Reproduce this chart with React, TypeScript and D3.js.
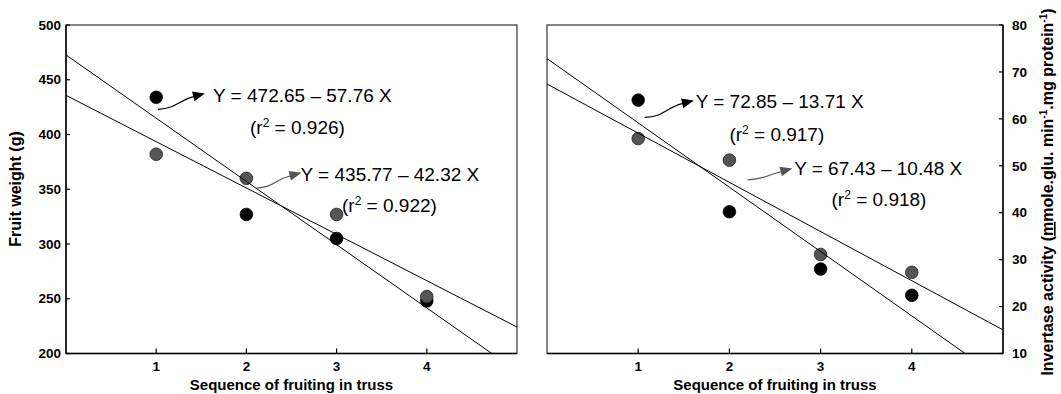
import React from "react";
import * as d3 from "d3";

// ---- data ----
const truss = [1, 2, 3, 4];
const xTicks = [1, 2, 3, 4];
const weightTicks = [200, 250, 300, 350, 400, 450, 500];
const invertaseTicks = [10, 20, 30, 40, 50, 60, 70, 80];

const weightBlack = [434, 327, 305, 248];
const weightGray = [382, 360, 327, 252];
const invertaseBlack = [64, 40.2, 28, 22.4];
const invertaseGray = [55.8, 51.2, 31.1, 27.3];

// regression: [intercept, slope]
const fitWeightBlack = [472.65, -57.76];
const fitWeightGray = [435.77, -42.32];
const fitInvBlack = [72.85, -13.71];
const fitInvGray = [67.43, -10.48];

const eqWeightBlack = ["Y = 472.65 \u2013 57.76 X", "0.926"];
const eqWeightGray = ["Y = 435.77 \u2013 42.32 X", "0.922"];
const eqInvBlack = ["Y = 72.85 \u2013 13.71 X", "0.917"];
const eqInvGray = ["Y = 67.43 \u2013 10.48 X", "0.918"];

// annotation anchors in data units: [eqX, eqY, r2X, r2Y, tailX, tailY, tipX, tipY]
const annWeightBlack = [1.63, 430, 2.04, 400.5, 1.02, 423, 1.54, 437.4];
const annWeightGray = [2.6, 357.5, 3.06, 329, 2.11, 351, 2.61, 365];
const annInvBlack = [1.63, 62.3, 2.0, 55.3, 1.07, 60.3, 1.61, 63.9];
const annInvGray = [2.71, 48.1, 3.12, 41.5, 2.2, 47, 2.69, 49.4];

const FONT = "'Liberation Sans', Arial, Helvetica, sans-serif";
const BLACK = "#000";
const GRAY = "#555";

const top = 25;
const bottom = 353.5;

function Arrow({ x1, y1, x2, y2, color }) {
  const a = (-14 * Math.PI) / 180;
  const hl = 12;
  const hw = 5;
  const bx = x2 - hl * Math.cos(a);
  const by = y2 - hl * Math.sin(a);
  const dx = bx - x1;
  const p1x = x1 + dx * 0.55;
  const p1y = y1 - 1;
  const p2x = bx - dx * 0.45 * Math.cos(a);
  const p2y = by - dx * 0.45 * Math.sin(a);
  const nx = -Math.sin(a);
  const ny = Math.cos(a);
  const head = `M${x2},${y2}L${bx + nx * hw},${by + ny * hw}L${bx - nx * hw},${by - ny * hw}Z`;
  return (
    <g>
      <path d={`M${x1},${y1}C${p1x},${p1y} ${p2x},${p2y} ${bx + 1},${by}`} fill="none" stroke={color} strokeWidth={1.2} />
      <path d={head} fill={color} />
    </g>
  );
}

function Annotation({ x, y, eq, ann, color }) {
  return (
    <g fontFamily={FONT} fontSize={19} fill="#000">
      <Arrow x1={x(ann[4])} y1={y(ann[5])} x2={x(ann[6])} y2={y(ann[7])} color={color} />
      <text x={x(ann[0])} y={y(ann[1])}>{eq[0]}</text>
      <text x={x(ann[2])} y={y(ann[3])}>
        (r<tspan dy={-7} fontSize={12}>2</tspan>
        <tspan dy={7}> = {eq[1]})</tspan>
      </text>
    </g>
  );
}

function Panel({ id, x0, x1, yDomain, yTicks, side, black, gray, fitB, fitG, eqB, eqG, annB, annG }) {
  const x = d3.scaleLinear().domain([0, 5]).range([x0, x1]);
  const y = d3.scaleLinear().domain(yDomain).range([bottom, top]);
  const axisX = side === "left" ? x0 : x1;
  const line = d3
    .line<number>()
    .x((d) => x(d))
    .y((d) => d);
  const fitPath = (f) =>
    d3.line<number>().x((d) => x(d)).y((d) => y(f[0] + f[1] * d))([0, 5]);
  return (
    <g>
      <defs>
        <clipPath id={`clip-${id}`}>
          <rect x={x0} y={top} width={x1 - x0} height={bottom - top} />
        </clipPath>
      </defs>
      {/* frame */}
      <rect x={x0} y={top} width={x1 - x0} height={bottom - top} fill="none" stroke="#333" strokeWidth={1.2} />
      <line x1={x0} x2={x1} y1={bottom} y2={bottom} stroke="#000" strokeWidth={1.6} />
      <line x1={axisX} x2={axisX} y1={top} y2={bottom} stroke="#000" strokeWidth={1.4} />
      {/* x ticks */}
      {xTicks.map((t) => (
        <g key={`xt${t}`}>
          <line x1={x(t)} x2={x(t)} y1={bottom} y2={bottom - 5} stroke="#000" strokeWidth={1.2} />
          <text x={x(t)} y={371} textAnchor="middle" fontFamily={FONT} fontWeight="bold" fontSize={13.5}>
            {t}
          </text>
        </g>
      ))}
      {/* y ticks */}
      {yTicks.map((t) => (
        <g key={`yt${t}`}>
          <line
            x1={axisX}
            x2={side === "left" ? axisX + 4 : axisX - 4}
            y1={y(t)}
            y2={y(t)}
            stroke="#000"
            strokeWidth={1.2}
          />
          <text
            x={side === "left" ? axisX - 5 : axisX + 9}
            y={y(t)}
            dy="0.35em"
            textAnchor={side === "left" ? "end" : "start"}
            fontFamily={FONT}
            fontWeight="bold"
            fontSize={13.5}
          >
            {t}
          </text>
        </g>
      ))}
      <text x={(x0 + x1) / 2} y={390} textAnchor="middle" fontFamily={FONT} fontWeight="bold" fontSize={15}>
        Sequence of fruiting in truss
      </text>
      {/* points */}
      {truss.map((t, i) => (
        <circle key={`b${t}`} cx={x(t)} cy={y(black[i])} r={6.3} fill={BLACK} stroke="#000" strokeWidth={0.8} />
      ))}
      {truss.map((t, i) => (
        <circle key={`g${t}`} cx={x(t)} cy={y(gray[i])} r={6.3} fill={GRAY} stroke="#222" strokeWidth={0.8} />
      ))}
      {/* regression lines */}
      <g clipPath={`url(#clip-${id})`}>
        <path d={fitPath(fitB) || ""} fill="none" stroke="#000" strokeWidth={1} />
        <path d={fitPath(fitG) || ""} fill="none" stroke="#000" strokeWidth={1} />
      </g>
      <Annotation x={x} y={y} eq={eqB} ann={annB} color={BLACK} />
      <Annotation x={x} y={y} eq={eqG} ann={annG} color={GRAY} />
    </g>
  );
}

export default function App() {
  return (
    <svg
      width={1061}
      height={394}
      style={{ position: "absolute", left: 0, top: 0, background: "#fff" }}
    >
      <rect width={1061} height={394} fill="#fff" />
      <Panel
        id="w"
        x0={66}
        x1={517}
        yDomain={[200, 500]}
        yTicks={weightTicks}
        side="left"
        black={weightBlack}
        gray={weightGray}
        fitB={fitWeightBlack}
        fitG={fitWeightGray}
        eqB={eqWeightBlack}
        eqG={eqWeightGray}
        annB={annWeightBlack}
        annG={annWeightGray}
      />
      <Panel
        id="i"
        x0={547}
        x1={1003}
        yDomain={[10, 80]}
        yTicks={invertaseTicks}
        side="right"
        black={invertaseBlack}
        gray={invertaseGray}
        fitB={fitInvBlack}
        fitG={fitInvGray}
        eqB={eqInvBlack}
        eqG={eqInvGray}
        annB={annInvBlack}
        annG={annInvGray}
      />
      <text
        transform="translate(21,189) rotate(-90)"
        textAnchor="middle"
        fontFamily={FONT}
        fontWeight="bold"
        fontSize={16}
      >
        Fruit weight (g)
      </text>
      <text
        transform="translate(1053,192) rotate(-90)"
        textAnchor="middle"
        fontFamily={FONT}
        fontWeight="bold"
        fontSize={16}
      >
        Invertase activity (<tspan textDecoration="underline">m</tspan>mole.glu. min
        <tspan dy={-6} fontSize={10}>-1</tspan>
        <tspan dy={6}>.mg protein</tspan>
        <tspan dy={-6} fontSize={10}>-1</tspan>
        <tspan dy={6}>)</tspan>
      </text>
    </svg>
  );
}
